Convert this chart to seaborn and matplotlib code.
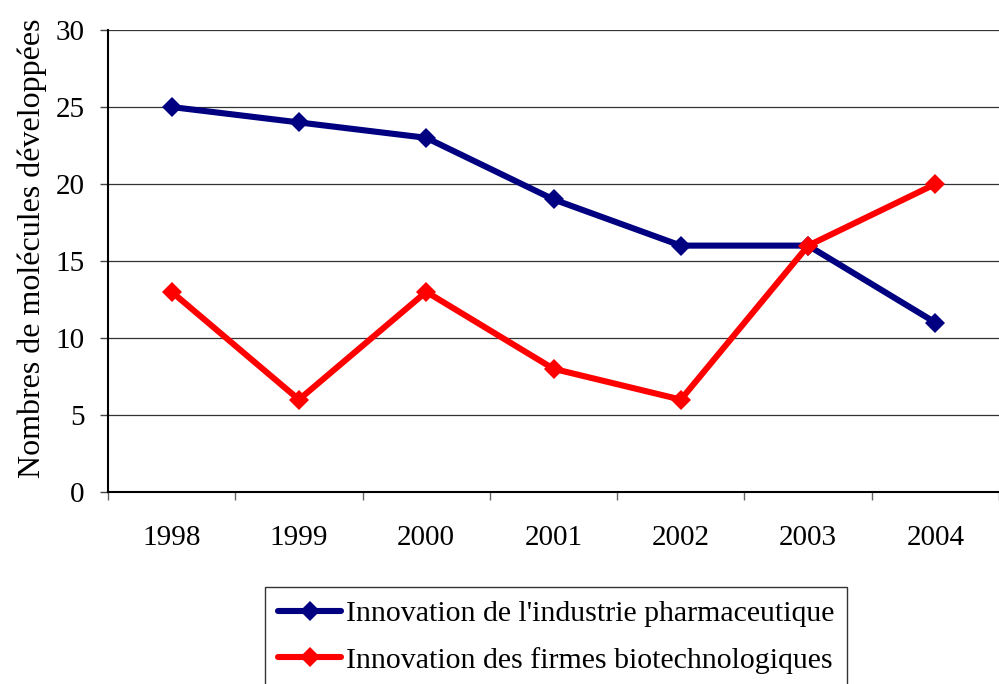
import pandas as pd
import numpy as np
import matplotlib.pyplot as plt
import seaborn as sns

# ── Data ───────────────────────────────────────────────────
years = [1998, 1999, 2000, 2001, 2002, 2003, 2004]
pharma = [25, 24, 23, 19, 16, 16, 11]
biotech = [13, 6, 13, 8, 6, 16, 20]
series_names = ["Innovation de l'industrie pharmaceutique",
                "Innovation des firmes biotechnologiques"]

df = pd.DataFrame({
    'annee': years * 2,
    'valeur': pharma + biotech,
    'serie': [series_names[0]] * len(years) + [series_names[1]] * len(years),
})

# ── Styling ────────────────────────────────────────────────
sns.set_theme(style="white")
plt.rcParams['font.family'] = ['Liberation Serif', 'DejaVu Serif']
plt.rcParams.update({'text.color': 'black', 'axes.labelcolor': 'black',
                     'xtick.color': 'black', 'ytick.color': 'black'})
COLORS = {series_names[0]: '#000080', series_names[1]: '#FF0000'}
LW, MS = 4.4, 10

fig = plt.figure(figsize=(9.99, 6.84), dpi=100)
ax = fig.add_axes([0.1081, 0.2807, 0.892, 0.6754])

sns.lineplot(data=df, x='annee', y='valeur', hue='serie', palette=COLORS,
             marker='D', markersize=MS, markeredgewidth=0, linewidth=LW,
             ax=ax, legend=False)

ax.set_xlim(years[0] - 0.5, years[-1] + 0.5)
ax.set_ylim(0, 30)
ax.set_yticks(np.arange(0, 31, 5))
ax.yaxis.grid(True, color='#333333', linewidth=0.9)
ax.set_axisbelow(True)

ax.set_xticks(years)
ax.set_xticklabels([str(y) for y in years])
ax.set_xticks(np.arange(years[0] - 0.5, years[-1] + 1, 1), minor=True)
ax.tick_params(axis='x', which='major', length=0, pad=24, labelsize=21)
ax.tick_params(axis='x', which='minor', length=6, width=1.0, direction='out',
               color='#666666', bottom=True)
ax.tick_params(axis='y', length=6, width=1.0, direction='out', color='#444444',
               left=True, pad=11, labelsize=21)

for side in ['top', 'right']:
    ax.spines[side].set_visible(False)
for side in ['left', 'bottom']:
    ax.spines[side].set_color('black')
    ax.spines[side].set_linewidth(1.5)

ax.set_xlabel('')
ax.set_ylabel('Nombres de molécules développées', fontsize=23)
ax.yaxis.set_label_coords(-0.068, 0.528)

# ── Legend ─────────────────────────────────────────────────
handles = [plt.Line2D([], [], color=COLORS[n], linewidth=LW, marker='D',
                      markersize=MS, markeredgewidth=0) for n in series_names]
leg = fig.legend(handles, series_names, loc='upper left',
                 bbox_to_anchor=(265 / 999, 1 - 587 / 684), frameon=True,
                 fancybox=False, edgecolor='black', fontsize=21.5,
                 handlelength=2.1, handletextpad=0.15, borderpad=0.45,
                 borderaxespad=0, labelspacing=0.65)
leg.get_frame().set_linewidth(1.0)

plt.savefig('out.png', dpi=100, facecolor='white')
